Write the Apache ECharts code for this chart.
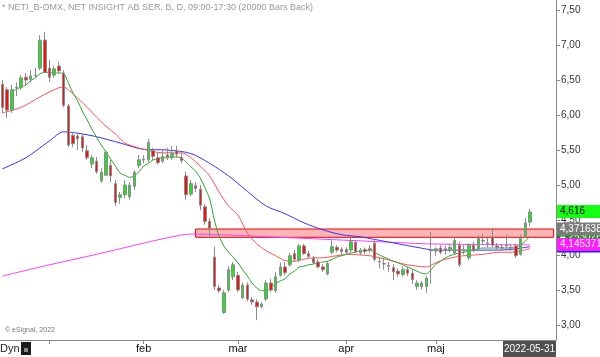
<!DOCTYPE html>
<html><head><meta charset="utf-8">
<script src="https://cdn.jsdelivr.net/npm/echarts@6/dist/echarts.min.js"></script>
<style>html,body{margin:0;padding:0;background:#fff}#c{width:600px;height:357px}</style>
</head><body><div id="c"></div>
<script>
const dates = [
'2021-12-16','2021-12-17','2021-12-20','2021-12-21','2021-12-22','2021-12-23','2021-12-27','2021-12-28','2021-12-29','2021-12-30',
'2022-01-03','2022-01-04','2022-01-05','2022-01-07','2022-01-10','2022-01-11','2022-01-12','2022-01-13','2022-01-14','2022-01-17',
'2022-01-18','2022-01-19','2022-01-20','2022-01-21','2022-01-24','2022-01-25','2022-01-26','2022-01-27','2022-01-28','2022-01-31',
'2022-02-01','2022-02-02','2022-02-03','2022-02-04','2022-02-07','2022-02-08','2022-02-09','2022-02-10','2022-02-11','2022-02-14',
'2022-02-15','2022-02-16','2022-02-17','2022-02-18','2022-02-21','2022-02-22','2022-02-23','2022-02-24','2022-02-25','2022-02-28',
'2022-03-01','2022-03-02','2022-03-03','2022-03-04','2022-03-07','2022-03-08','2022-03-09','2022-03-10','2022-03-11','2022-03-14',
'2022-03-15','2022-03-16','2022-03-17','2022-03-18','2022-03-21','2022-03-22','2022-03-23','2022-03-24','2022-03-25','2022-03-28',
'2022-03-29','2022-03-30','2022-03-31','2022-04-01','2022-04-04','2022-04-05','2022-04-06','2022-04-07','2022-04-08','2022-04-11',
'2022-04-12','2022-04-13','2022-04-14','2022-04-19','2022-04-20','2022-04-21','2022-04-22','2022-04-25','2022-04-26','2022-04-27',
'2022-04-28','2022-04-29','2022-05-02','2022-05-03','2022-05-04','2022-05-05','2022-05-06','2022-05-09','2022-05-10','2022-05-11',
'2022-05-12','2022-05-13','2022-05-16','2022-05-17','2022-05-18','2022-05-19','2022-05-20','2022-05-23','2022-05-24','2022-05-25',
'2022-05-27','2022-05-30','2022-05-31'];
const padSlots = ['pad1','pad2','pad3','pad4','pad5'];

const opens = [6.44,6.36,6.07,6.39,6.39,6.54,6.51,6.56,6.67,7.07,
6.67,6.57,6.70,6.60,6.13,5.71,5.70,5.69,5.49,5.30,
5.34,5.06,5.14,5.28,5.02,4.82,4.86,4.83,4.98,5.28,
5.36,5.36,5.49,5.39,5.34,5.43,5.39,5.49,5.39,5.13,
4.87,4.99,4.94,4.69,4.48,3.97,3.53,3.18,3.50,3.69,
3.71,3.39,3.57,3.36,3.33,3.26,3.37,3.60,3.49,3.71,
3.83,3.86,4.02,3.93,4.13,4.02,3.95,3.90,3.83,3.73,
4.04,4.11,4.08,4.08,4.07,4.18,4.03,4.08,4.09,4.17,
3.91,3.88,3.85,3.82,3.77,3.72,3.79,3.74,3.55,3.55,
3.55,4.06,4.06,4.10,4.09,4.07,4.03,4.14,4.06,3.96,
4.14,4.09,4.21,4.17,4.26,4.13,4.11,4.14,4.11,4.13,
4.01,4.26,4.47];
const closes = [6.11,6.07,6.36,6.40,6.53,6.50,6.56,6.57,7.07,6.61,
6.54,6.66,6.63,6.14,5.57,5.59,5.66,5.53,5.39,5.39,
5.19,5.18,5.47,5.13,4.75,4.86,5.00,5.00,5.18,5.36,
5.37,5.61,5.41,5.32,5.41,5.40,5.45,5.44,5.35,4.86,
5.02,4.95,4.71,4.48,4.38,3.55,3.49,3.46,3.79,3.86,
3.50,3.57,3.37,3.33,3.26,3.30,3.60,3.50,3.69,3.83,
3.75,3.99,3.94,4.13,4.02,3.98,3.89,3.83,3.79,3.88,
4.12,4.07,4.05,4.04,4.19,4.05,4.07,4.05,4.07,3.94,
3.90,3.87,3.84,3.76,3.73,3.79,3.74,3.65,3.60,3.60,
3.67,4.07,4.09,4.04,4.07,4.11,4.21,3.86,4.07,4.14,
4.07,4.24,4.20,4.16,4.14,4.11,4.10,4.13,4.10,3.99,
4.24,4.46,4.616];
const lows = [6.03,5.96,6.03,6.27,6.36,6.43,6.47,6.53,6.64,6.60,
6.47,6.53,6.60,6.11,5.54,5.54,5.50,5.47,5.36,5.24,
5.16,5.03,5.13,5.04,4.70,4.73,4.81,4.79,4.93,5.24,
5.31,5.33,5.36,5.29,5.31,5.36,5.36,5.39,5.31,4.79,
4.84,4.90,4.64,4.43,4.24,3.50,3.46,3.16,3.47,3.64,
3.47,3.37,3.34,3.29,3.07,3.24,3.34,3.47,3.46,3.69,
3.71,3.83,3.90,3.90,4.00,3.96,3.87,3.81,3.76,3.71,
4.01,4.04,4.00,4.00,4.04,4.03,4.00,4.01,4.03,3.91,
3.81,3.79,3.76,3.64,3.69,3.69,3.70,3.59,3.50,3.51,
3.46,3.59,3.99,4.01,4.01,4.04,4.00,3.83,4.01,3.93,
4.04,4.06,4.16,4.11,4.11,4.07,4.06,4.09,4.06,3.96,
3.99,4.24,4.41];
const highs = [6.50,6.40,6.43,6.47,6.57,6.60,6.64,6.67,7.14,7.19,
6.79,6.70,6.76,6.64,6.16,5.76,5.74,5.73,5.57,5.43,
5.40,5.24,5.50,5.36,5.07,4.90,5.07,5.04,5.21,5.43,
5.43,5.66,5.53,5.46,5.50,5.53,5.56,5.56,5.46,5.19,
5.07,5.04,5.00,4.73,4.53,4.12,3.57,3.50,3.84,3.90,
3.76,3.61,3.61,3.40,3.37,3.33,3.64,3.66,3.76,3.89,
3.90,4.03,4.07,4.16,4.16,4.06,3.99,3.94,3.87,3.91,
4.21,4.14,4.11,4.11,4.24,4.21,4.10,4.11,4.14,4.21,
3.97,3.96,3.90,3.87,3.81,3.84,3.83,3.79,3.64,3.63,
3.70,4.33,4.11,4.14,4.13,4.16,4.26,4.19,4.14,4.17,
4.19,4.29,4.30,4.24,4.39,4.17,4.16,4.29,4.16,4.16,
4.29,4.53,4.66];

// short moving average (green), one reading per bar
const greenMA = [null,null,6.33,6.37,6.40,6.43,6.49,6.53,6.59,6.61,
6.61,6.60,6.60,6.59,6.46,6.31,6.20,6.05,5.93,5.80,
5.68,5.57,5.47,5.37,5.27,5.17,5.14,5.11,5.13,5.19,
5.27,5.31,5.36,5.37,5.39,5.39,5.40,5.40,5.39,5.33,
5.26,5.20,5.10,4.96,4.80,4.50,4.27,4.13,4.04,3.97,
3.89,3.79,3.70,3.60,3.53,3.49,3.49,3.53,3.59,3.63,
3.66,3.73,3.77,3.83,3.84,3.86,3.87,3.89,3.90,3.91,
3.94,3.97,3.99,4.01,4.03,4.04,4.06,4.06,4.07,4.04,
4.00,3.97,3.94,3.91,3.89,3.86,3.83,3.80,3.77,3.74,
3.73,3.79,3.87,3.91,3.96,3.99,4.01,4.03,4.04,4.06,
4.07,4.09,4.10,4.10,4.10,4.10,4.10,4.10,4.10,4.11,
4.14,4.20,4.27];
// readings [bar index, value]
const redMA = [[0,6.03],[4,6.11],[8,6.26],[10,6.33],[12,6.39],[13,6.40],[14,6.36],[16,6.24],[18,6.11],[20,5.97],
[22,5.84],[24,5.73],[26,5.60],[28,5.55],[30,5.51],[34,5.46],[38,5.46],[40,5.39],[42,5.27],[44,5.13],[46,4.90],
[48,4.70],[50,4.57],[52,4.31],[54,4.16],[56,4.06],[58,3.99],[60,3.92],[62,3.91],[64,3.94],[66,3.96],[68,3.96],
[70,3.98],[72,4.00],[74,4.01],[76,4.00],[78,3.99],[80,3.96],[82,3.93],[84,3.89],[86,3.86],[88,3.84],[90,3.83],
[92,3.89],[94,3.94],[96,3.97],[98,3.99],[100,4.00],[102,4.01],[104,4.03],[106,4.04],[108,4.04],[110,4.06],[112,4.09]];
const blueMA = [[0,5.23],[5,5.39],[10,5.63],[13,5.76],[16,5.74],[20,5.69],[25,5.60],[30,5.51],[35,5.50],[40,5.45],
[44,5.31],[48,5.13],[52,4.91],[56,4.70],[60,4.59],[64,4.46],[68,4.36],[72,4.29],[76,4.26],[80,4.21],[84,4.16],
[88,4.11],[92,4.07],[96,4.07],[100,4.07],[104,4.07],[108,4.08],[112,4.12]];
const magentaMA = [[0,3.70],[10,3.86],[20,4.01],[30,4.17],[36,4.26],[40,4.30],[50,4.28],[60,4.25],[70,4.22],
[80,4.19],[90,4.16],[100,4.15],[112,4.145]];

const yTicks = [3.0,3.5,4.0,4.5,5.0,5.5,6.0,6.5,7.0,7.5];
const monthTicks = ['2022-01-03','2022-02-01','2022-03-01','2022-04-01','2022-05-02'];
const monthLabels = {'2022-02-01':'feb','2022-03-01':'mar','2022-04-01':'apr','2022-05-02':'maj'};
const zoneStart = '2022-02-16', zoneEnd = 'pad5';
const zoneTop = 4.371638, zoneBottom = 4.253026;
const tagValues = [4.128, 4.253026, 4.371638, 4.145371, 4.616];
const tagBg = ['#1f1fff', '#119a11', '#7c7c7c', '#ff1aff', '#14ff14'];
const tagFg = ['#ffffff', '#ffffff', '#ffffff', '#ffffff', '#000000'];
const titleText = '* NETI_B-OMX, NET INSIGHT AB SER. B, D, 09:00-17:30 (20000 Bars Back)';

const cats = dates.concat(padSlots);
const ohlc = dates.map((d,i)=>[opens[i],closes[i],lows[i],highs[i]]);
const FONT = 'Arial, "Liberation Sans", sans-serif';
const fmt = v => String(v).replace('.', ',');

const chart = echarts.init(document.getElementById('c'), null, {renderer:'canvas'});
const lineS = (name, data, color, z) => ({
  name, type:'line', data, symbol:'none', smooth:0.3, connectNulls:true, z,
  lineStyle:{color, width:1}, silent:true, animation:false
});
chart.setOption({
  animation:false,
  grid:{left:0, right:44, top:0, bottom:17},
  xAxis:{type:'category', data:cats, boundaryGap:true,
    axisLine:{lineStyle:{color:'#8a8a8a', width:1}},
    axisTick:{show:true, alignWithLabel:true, length:4, lineStyle:{color:'#8a8a8a'},
      interval:(i,v)=>monthTicks.includes(v)},
    axisLabel:{interval:(i,v)=>!!monthLabels[v], formatter:v=>monthLabels[v]||'',
      margin:3, fontSize:11, color:'#111', fontFamily:FONT},
    splitLine:{show:false}},
  yAxis:{type:'value', position:'right', min:2.786, max:7.643, scale:true,
    axisLine:{show:true, lineStyle:{color:'#8a8a8a'}},
    axisTick:{show:true, length:4, customValues:yTicks, lineStyle:{color:'#8a8a8a'}},
    axisLabel:{customValues:yTicks, formatter:v=>v.toFixed(2).replace('.',','), margin:5,
      fontSize:10, color:'#333', fontFamily:FONT},
    splitLine:{show:false}},
  series:[
    lineS('magenta', magentaMA, '#ff3cff', 2),
    lineS('blue', blueMA, '#3535ff', 2),
    lineS('red', redMA, '#ff5252', 2),
    lineS('green', greenMA, '#2fa52f', 2),
    {type:'candlestick', data:ohlc, barWidth:3, z:3, silent:true, clip:false,
     itemStyle:{color:'#22e022', color0:'#f01212', borderColor:'#8c8c8c', borderColor0:'#8c8c8c', borderWidth:1},
     markArea:{silent:true, itemStyle:{color:'rgba(245,110,110,0.5)', borderColor:'#f00000', borderWidth:1},
       data:[[{xAxis:zoneStart, yAxis:zoneTop},{xAxis:zoneEnd, yAxis:zoneBottom}]]},
     markLine:{silent:true, symbol:['none','none'], animation:false,
       lineStyle:{width:0, color:'rgba(0,0,0,0)', type:'solid'},
       label:{show:true, position:'end'},
       data:tagValues.map((v,i)=>({yAxis:v,
         label:{show:true, position:'end', distance:1, formatter:fmt(v), backgroundColor:tagBg[i],
           color:tagFg[i], fontSize:10, fontFamily:FONT, padding:[1,2,0,3], width:39, lineHeight:12}}))}
    }
  ],
  graphic:[
    {type:'text', left:2, top:3, style:{text:titleText, fill:'#9a9a9a', font:'9px '+FONT}},
    {type:'text', left:5, top:327, style:{text:'\u00a9 eSignal, 2022', fill:'#777', font:'7px '+FONT}},
    {type:'text', left:0, top:343, style:{text:'Dyn', fill:'#222', font:'11px '+FONT}},
    {type:'rect', shape:{x:21, y:342, width:10, height:13}, style:{fill:'#1a1a1a'}},
    {type:'rect', shape:{x:24, y:348, width:4, height:4}, style:{fill:'#888'}},
    {type:'rect', shape:{x:503, y:341, width:53, height:16}, style:{fill:'#505050'}},
    {type:'text', x:529.5, y:349, style:{text:dates[dates.length-1], fill:'#fff', font:'10px '+FONT, align:'center', verticalAlign:'middle'}}
  ]
});
</script></body></html>
